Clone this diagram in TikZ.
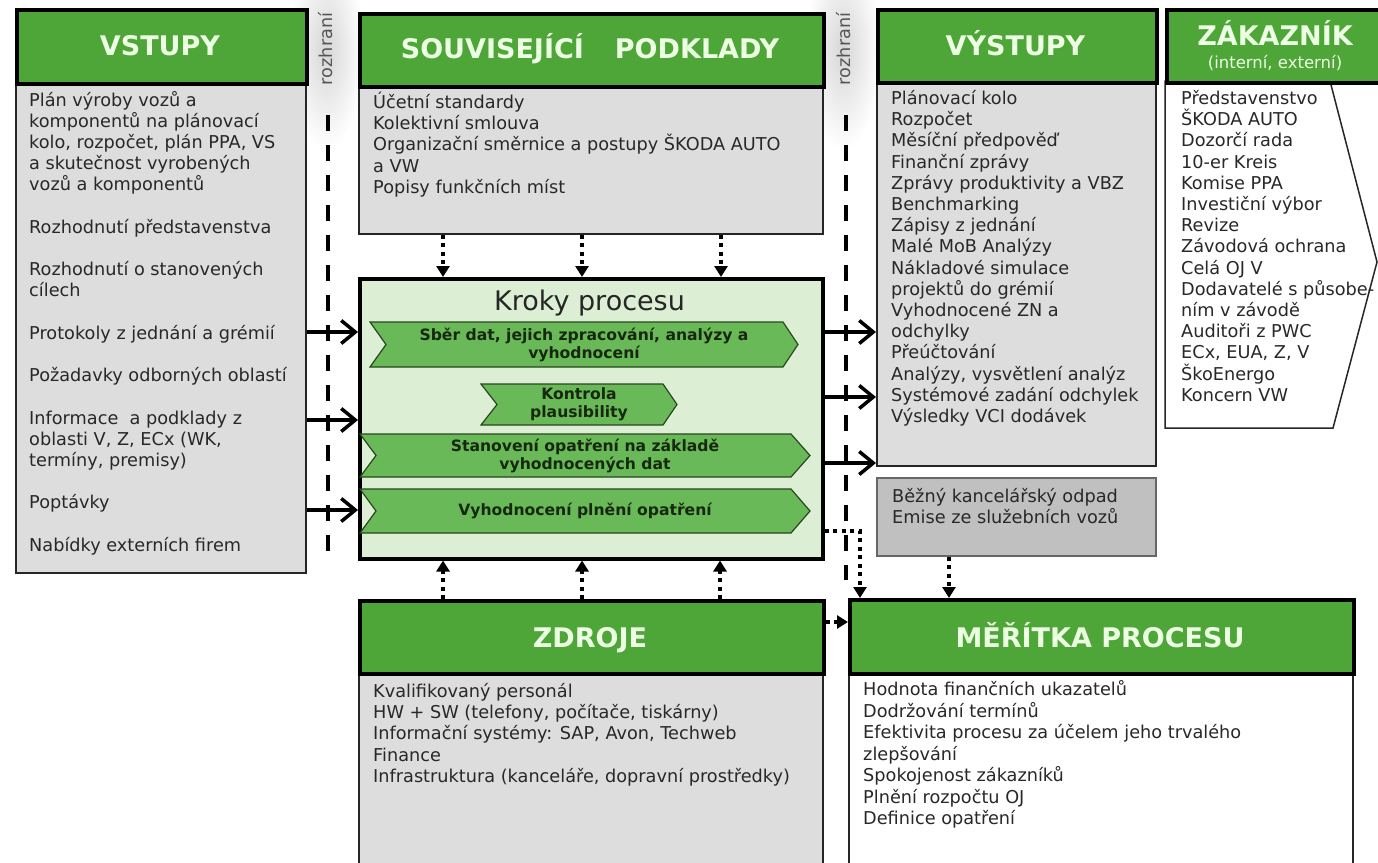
\documentclass[tikz,border=0pt]{standalone}
\usepackage{fontspec}
\setmainfont{DejaVu Sans}
\usetikzlibrary{arrows.meta}

\definecolor{hdrgreen}{RGB}{78,166,57}
\definecolor{hdrtext}{RGB}{236,255,226}
\definecolor{boxgray}{RGB}{221,221,221}
\definecolor{wastegray}{RGB}{192,192,192}
\definecolor{procfill}{RGB}{220,239,212}
\definecolor{chevfill}{RGB}{106,185,88}
\definecolor{chevline}{RGB}{40,70,30}
\definecolor{chevtext}{RGB}{22,40,14}
\definecolor{bodytext}{RGB}{40,40,40}
\definecolor{labelgray}{RGB}{85,85,85}

\newcommand\bodyfont{\fontsize{17.7}{21.2}\selectfont}
\newcommand\hdrfont{\fontsize{27}{30}\selectfont\bfseries}
\newcommand\chevfont{\fontsize{15.6}{18}\selectfont\bfseries}

\tikzset{
  hdrbox/.style={draw=black, line width=3.5, fill=hdrgreen, inner sep=0, anchor=north west},
  graybody/.style={draw=black!85, line width=1.5, fill=boxgray, inner sep=0, anchor=north west},
  whitebody/.style={draw=black!85, line width=1.5, fill=white, inner sep=0, anchor=north west},
  hdrlabel/.style={text=hdrtext, font=\hdrfont, inner sep=0, anchor=base},
  txtline/.style={text=bodytext, font=\bodyfont, inner sep=0, anchor=base west},
  chevron/.style={draw=chevline, line width=1.2, fill=chevfill, line join=miter},
  chevlabel/.style={text=chevtext, font=\chevfont, align=center, inner sep=0},
  flow/.style={line width=3.5, -{Straight Barb[length=14, width=23]}},
  support/.style={line width=4, dash pattern=on 4 off 4.5, -{Triangle[length=11, width=13]}},
  boundary/.style={line width=4, dash pattern=on 16 off 14},
  edgelabel/.style={text=labelgray, font=\bodyfont, rotate=90, inner sep=0},
}

\begin{document}
\begin{tikzpicture}[x=1pt,y=-1pt]
\useasboundingbox (0,0) rectangle (1378,862);
\clip (0,0) rectangle (1378,862);
\fill[white] (0,0) rectangle (1378,862);

% soft glow behind the interface labels
\shade[inner color=black!16, outer color=white] (288,-50) rectangle (364,150);
\shade[inner color=black!16, outer color=white] (805,-50) rectangle (881,150);

% ---------- VSTUPY ----------
\node[graybody, minimum width=290, minimum height=490] (vstb) at (15,82) {};
\node[hdrbox, minimum width=290, minimum height=74] (vsth) at (15,8) {};
\node[hdrlabel] (vstt) at (160,55) {VSTUPY};
\foreach \i/\t in {0/Plán výroby vozů a, 1/komponentů na plánovací,
  2/{kolo, rozpočet, plán PPA, VS}, 3/a skutečnost vyrobených,
  4/vozů a komponentů, 6/Rozhodnutí představenstva,
  8/Rozhodnutí o stanovených, 9/cílech, 11/Protokoly z jednání a grémií,
  13/Požadavky odborných oblastí, 15/Informace~ a podklady z,
  16/{oblasti V, Z, ECx (WK,}, 17/{termíny, premisy)}, 19/Poptávky,
  21/Nabídky externích firem}
  \node[txtline] (vst-\i) at (29,106+21.2*\i) {\t};

% ---------- interfaces ----------
\node[edgelabel] (if1) at (326,49) {rozhraní};
\node[edgelabel] (if2) at (844,49) {rozhraní};
\coordinate (if1top) at (328,115);
\coordinate (if1bot) at (328,562);
\coordinate (if2top) at (846,115);
\coordinate (if2bot) at (846,580);

% ---------- SOUVISEJICI PODKLADY ----------
\node[graybody, minimum width=464, minimum height=148] (souvb) at (358,85) {};
\node[hdrbox, minimum width=464, minimum height=73] (souvh) at (358,12) {};
\node[hdrlabel] (souvt) at (590,58.5) {SOUVISEJÍCÍ\hspace{1.15em}PODKLADY};
\foreach \i/\t in {0/Účetní standardy, 1/Kolektivní smlouva,
  2/Organizační směrnice a postupy ŠKODA AUTO, 3/a VW,
  4/Popisy funkčních míst}
  \node[txtline] (souv-\i) at (373,108.5+21.2*\i) {\t};

% ---------- process steps ----------
\node[draw=black, line width=3.5, fill=procfill, inner sep=0, anchor=north west,
      minimum width=463, minimum height=280] (proc) at (358,277) {};
\node[text=black!85, font=\fontsize{27}{30}\selectfont, inner sep=0, anchor=base]
      (proct) at (589.5,310) {Kroky procesu};

\draw[chevron] (370,322) -- (783,322) -- (798,344.5) -- (783,367) -- (370,367) -- (386,344.5) -- cycle;
\node[chevlabel] (step1) at (584,344.5) {Sběr dat, jejich zpracování, analýzy a\\vyhodnocení};

\draw[chevron] (481,384) -- (663,384) -- (677,404.5) -- (663,425) -- (481,425) -- (497,404.5) -- cycle;
\node[chevlabel] (step2) at (579,404.5) {Kontrola\\plausibility};

\draw[chevron] (360,434) -- (791,434) -- (810,455.5) -- (791,477) -- (360,477) -- (376,455.5) -- cycle;
\node[chevlabel] (step3) at (585,455.5) {Stanovení opatření na základě\\vyhodnocených dat};

\draw[chevron] (360,489) -- (791,489) -- (810,511) -- (791,533) -- (360,533) -- (376,511) -- cycle;
\node[chevlabel] (step4) at (585,511) {Vyhodnocení plnění opatření};

% ---------- VYSTUPY ----------
\node[graybody, minimum width=279, minimum height=384] (vysb) at (876,81) {};
\node[hdrbox, minimum width=279, minimum height=73] (vysh) at (876,8) {};
\node[hdrlabel] (vyst) at (1015.5,55) {VÝSTUPY};
\foreach \i/\t in {0/Plánovací kolo, 1/Rozpočet, 2/Měsíční předpověď,
  3/Finanční zprávy, 4/Zprávy produktivity a VBZ, 5/Benchmarking,
  6/Zápisy z jednání, 7/Malé MoB Analýzy, 8/Nákladové simulace,
  9/projektů do grémií, 10/Vyhodnocené ZN a, 11/odchylky,
  12/Přeúčtování, 13/{Analýzy, vysvětlení analýz},
  14/Systémové zadání odchylek, 15/Výsledky VCI dodávek}
  \node[txtline] (vys-\i) at (891,104.5+21.2*\i) {\t};

% ---------- waste ----------
\node[draw=black!60, line width=1.5, fill=wastegray, inner sep=0, anchor=north west,
      minimum width=279, minimum height=78] (waste) at (876,477) {};
\node[txtline] (waste-0) at (892,502.5) {Běžný kancelářský odpad};
\node[txtline] (waste-1) at (892,523.7) {Emise ze služebních vozů};

% ---------- ZAKAZNIK ----------
\draw[draw=black!85, line width=1.5, fill=white, line join=miter]
  (1165,81) -- (1330,81) -- (1377,262) -- (1333,428) -- (1165,428) -- cycle;
\node[hdrbox, minimum width=225, minimum height=73] (zakh) at (1165,8) {};
\node[hdrlabel] (zakt) at (1275,45) {ZÁKAZNÍK};
\node[text=hdrtext, font=\fontsize{16.5}{20}\selectfont, inner sep=0, anchor=base]
      (zaks) at (1275,68) {(interní, externí)};
\foreach \i/\t in {0/Představenstvo, 1/ŠKODA AUTO, 2/Dozorčí rada,
  3/10-er Kreis, 4/Komise PPA, 5/Investiční výbor, 6/Revize,
  7/Závodová ochrana, 8/Celá OJ V, 9/Dodavatelé s působe-,
  10/ním v závodě, 11/Auditoři z PWC, 12/{ECx, EUA, Z, V},
  13/ŠkoEnergo, 14/Koncern VW}
  \node[txtline] (zak-\i) at (1181,104.5+21.2*\i) {\t};

% ---------- ZDROJE ----------
\node[graybody, minimum width=464, minimum height=200] (zdrb) at (358,672) {};
\node[hdrbox, minimum width=464, minimum height=73] (zdrh) at (358,599) {};
\node[hdrlabel] (zdrt) at (590,647) {ZDROJE};
\foreach \i/\t in {0/Kvalifikovaný personál,
  1/{HW + SW (telefony, počítače, tiskárny)},
  2/{Informační systémy: SAP, Avon, Techweb}, 3/Finance,
  4/{Infrastruktura (kanceláře, dopravní prostředky)}}
  \node[txtline] (zdr-\i) at (373,697.5+21.2*\i) {\t};

% ---------- MERITKA PROCESU ----------
\node[whitebody, minimum width=504, minimum height=200] (metb) at (848,672) {};
\node[hdrbox, minimum width=504, minimum height=74] (meth) at (848,598) {};
\node[hdrlabel] (mett) at (1100,647) {MĚŘÍTKA PROCESU};
\foreach \i/\t in {0/Hodnota finančních ukazatelů, 1/Dodržování termínů,
  2/Efektivita procesu za účelem jeho trvalého, 3/zlepšování,
  4/Spokojenost zákazníků, 5/Plnění rozpočtu OJ, 6/Definice opatření}
  \node[txtline] (met-\i) at (863,695.5+21.5*\i) {\t};

% ---------- interface lines ----------
\draw[boundary] (if1top) -- (if1bot);
\draw[boundary] (if2top) -- (if2bot);

% ---------- inputs and outputs ----------
\draw[flow] (vstb.east |- 0,332) -- (proc.west |- 0,332);
\draw[flow] (vstb.east |- 0,420) -- (proc.west |- 0,420);
\draw[flow] (vstb.east |- 0,510) -- (proc.west |- 0,510);
\draw[flow] (proc.east |- 0,332) -- (vysb.west |- 0,332);
\draw[flow] (proc.east |- 0,397) -- (vysb.west |- 0,397);
\draw[flow] (proc.east |- 0,463) -- (vysb.west |- 0,463);

% ---------- supporting links ----------
\foreach \x in {443,582,721}
  \draw[support] (souvb.south -| \x,0) -- (proc.north -| \x,0);
\foreach \x in {443,582,720}
  \draw[support] (zdrh.north -| \x,0) -- (proc.south -| \x,0);
\draw[support] (proc.east |- 0,531) -| (meth.north -| 860,0);
\draw[support] (waste.south -| 949,0) -- (meth.north -| 949,0);
\draw[support] (zdrh.east |- 0,622) -- (meth.west |- 0,622);
\end{tikzpicture}
\end{document}
